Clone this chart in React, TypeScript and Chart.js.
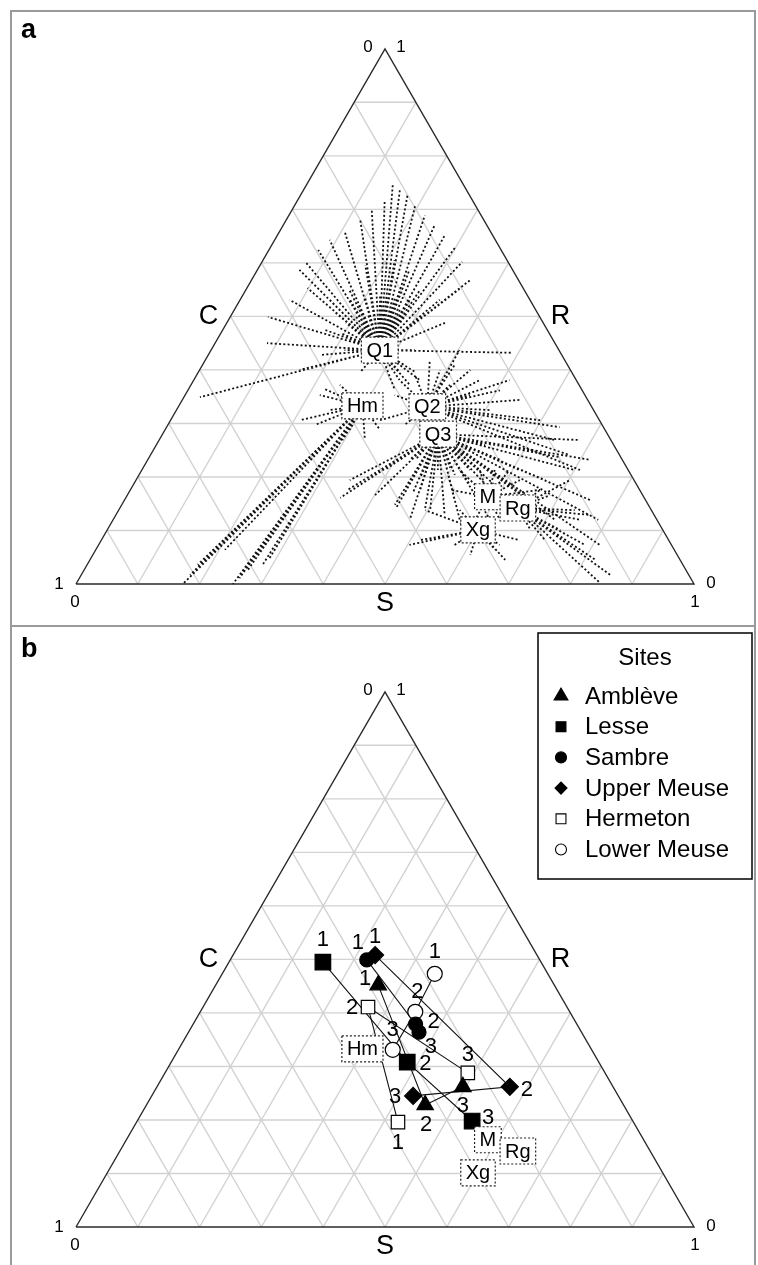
import React, { useEffect, useRef } from 'react';
import { Chart, registerables } from 'chart.js';
import { drawPoint } from 'chart.js/helpers';

Chart.register(...registerables);

type SR = [number, number]; // [S, R]; C = 1 - S - R

// ---------------- data ----------------
const gridTicks = [0.1, 0.2, 0.3, 0.4, 0.5, 0.6, 0.7, 0.8, 0.9];
const vertexTickLabels = ['0', '1'];
const axisNames = ['C', 'R', 'S'];
const panelLetters = ['a', 'b'];

const groupNames = ['Q1', 'Hm', 'Q2', 'Q3', 'M', 'Xg', 'Rg'];
const groupCentroids: SR[] = [
  [0.273, 0.437], [0.297, 0.333], [0.403, 0.331], [0.446, 0.28],
  [0.585, 0.163], [0.6, 0.101], [0.644, 0.142],
];

const membersQ1: SR[] = [
  [0.14, 0.745], [0.156, 0.736], [0.173, 0.727], [0.141, 0.717], [0.195, 0.708], [0.129, 0.699],
  [0.22, 0.689], [0.12, 0.68], [0.245, 0.671], [0.106, 0.658], [0.271, 0.652], [0.089, 0.643],
  [0.299, 0.628], [0.08, 0.624], [0.324, 0.602], [0.07, 0.602], [0.354, 0.568], [0.068, 0.587],
  [0.345, 0.551], [0.098, 0.553], [0.08, 0.531], [0.353, 0.488], [0.49, 0.432], [0.061, 0.499],
  [0.084, 0.45], [0.026, 0.349], [0.145, 0.531], [0.168, 0.549], [0.246, 0.587], [0.282, 0.549],
  [0.213, 0.605], [0.17, 0.596], [0.323, 0.531], [0.165, 0.475], [0.181, 0.428], [0.162, 0.4],
  [0.245, 0.493], [0.271, 0.49], [0.223, 0.49], [0.294, 0.475], [0.213, 0.475], [0.33, 0.437],
  [0.216, 0.437], [0.326, 0.396], [0.262, 0.396], [0.231, 0.521], [0.268, 0.512], [0.204, 0.512],
  [0.238, 0.508], [0.258, 0.506], [0.219, 0.506], [0.282, 0.499], [0.204, 0.499], [0.303, 0.488],
  [0.193, 0.488], [0.323, 0.469], [0.193, 0.469], [0.178, 0.531], [0.275, 0.531], [0.223, 0.538],
  [0.249, 0.534], [0.201, 0.534], [0.311, 0.508], [0.165, 0.508], [0.333, 0.381], [0.354, 0.372],
  [0.335, 0.362], [0.351, 0.396], [0.327, 0.409], [0.366, 0.381],
];
const membersHm: SR[] = [
  [0.173, 0.0], [0.176, 0.017], [0.179, 0.036], [0.187, 0.045], [0.254, 0.0], [0.259, 0.011],
  [0.265, 0.026], [0.284, 0.034], [0.289, 0.045], [0.221, 0.364], [0.248, 0.325], [0.297, 0.269],
  [0.294, 0.25], [0.209, 0.306], [0.218, 0.353], [0.241, 0.372], [0.299, 0.288], [0.238, 0.297],
  [0.333, 0.269], [0.348, 0.288], [0.19, 0.054], [0.209, 0.064], [0.263, 0.054],
];
const membersQ2: SR[] = [
  [0.438, 0.4], [0.463, 0.381], [0.408, 0.409], [0.505, 0.362], [0.636, 0.293], [0.709, 0.213],
  [0.419, 0.372], [0.507, 0.325], [0.333, 0.381], [0.339, 0.353], [0.383, 0.297], [0.389, 0.4],
  [0.353, 0.391], [0.363, 0.419], [0.546, 0.344], [0.339, 0.306], [0.461, 0.353], [0.598, 0.306],
  [0.402, 0.437], [0.511, 0.381], [0.64, 0.269], [0.678, 0.241],
];
const membersQ3: SR[] = [
  [0.753, 0.157], [0.785, 0.12], [0.811, 0.073], [0.7, 0.213], [0.664, 0.237], [0.662, 0.194],
  [0.611, 0.213], [0.57, 0.232], [0.547, 0.213], [0.545, 0.185], [0.534, 0.157], [0.504, 0.138],
  [0.48, 0.12], [0.442, 0.148], [0.401, 0.166], [0.346, 0.194], [0.347, 0.161], [0.352, 0.176],
  [0.469, 0.176], [0.532, 0.129], [0.561, 0.12], [0.61, 0.12], [0.633, 0.138], [0.656, 0.157],
  [0.598, 0.176], [0.508, 0.241], [0.532, 0.26], [0.424, 0.232], [0.393, 0.213], [0.531, 0.213],
  [0.715, 0.12], [0.447, 0.144], [0.46, 0.17], [0.494, 0.142], [0.681, 0.269], [0.716, 0.232],
  [0.479, 0.213], [0.497, 0.217], [0.457, 0.217], [0.505, 0.232], [0.433, 0.232], [0.513, 0.25],
  [0.511, 0.204], [0.458, 0.198],
];
const membersM: SR[] = [
  [0.595, 0.213], [0.621, 0.194], [0.541, 0.194], [0.514, 0.213], [0.626, 0.12], [0.67, 0.129],
  [0.517, 0.176], [0.547, 0.213], [0.663, 0.176], [0.571, 0.213], [0.586, 0.12],
];
const membersXg: SR[] = [
  [0.516, 0.082], [0.503, 0.073], [0.496, 0.138], [0.552, 0.138], [0.649, 0.073],
  [0.672, 0.045], [0.677, 0.082], [0.646, 0.064], [0.611, 0.054], [0.576, 0.073],
];
const membersRg: SR[] = [
  [0.738, 0.138], [0.756, 0.12], [0.767, 0.129], [0.856, 0.017], [0.847, 0.002], [0.818, 0.045],
  [0.733, 0.101], [0.718, 0.082], [0.685, 0.101], [0.684, 0.166], [0.702, 0.194], [0.663, 0.176],
  [0.787, 0.073],
];
const groupMembers: SR[][] = [membersQ1, membersHm, membersQ2, membersQ3, membersM, membersXg, membersRg];
const panelBGroups = ['Hm', 'M', 'Xg', 'Rg'];

const siteNames = ['Amblève', 'Lesse', 'Sambre', 'Upper Meuse', 'Hermeton', 'Lower Meuse'];
const stageLabels = ['1', '2', '3'];
const siteAmbleve: SR[] = [[0.263, 0.452], [0.451, 0.228], [0.495, 0.262]];
const siteLesse: SR[] = [[0.152, 0.495], [0.382, 0.308], [0.542, 0.198]];
const siteSambre: SR[] = [[0.221, 0.499], [0.36, 0.379], [0.373, 0.364]];
const siteUpperMeuse: SR[] = [[0.23, 0.508], [0.571, 0.262], [0.423, 0.245]];
const siteHermeton: SR[] = [[0.423, 0.196], [0.267, 0.411], [0.49, 0.288]];
const siteLowerMeuse: SR[] = [[0.344, 0.473], [0.348, 0.402], [0.347, 0.331]];
const siteValues: SR[][] = [siteAmbleve, siteLesse, siteSambre, siteUpperMeuse, siteHermeton, siteLowerMeuse];

// ---------------- styles / layout ----------------
const FONT = '"Liberation Sans", Arial, Helvetica, sans-serif';
const H3 = Math.sqrt(3) / 2;
const SIDE = 618;
const LEFT = 76;
const PAGE_W = 758;

const siteStyles = [
  { pointStyle: 'triangle', radius: 9.5, fill: '#000', legendRadius: 8 },
  { pointStyle: 'rect', radius: 11, fill: '#000', legendRadius: 7 },
  { pointStyle: 'circle', radius: 7, fill: '#000', legendRadius: 5.5 },
  { pointStyle: 'rectRot', radius: 8.5, fill: '#000', legendRadius: 6 },
  { pointStyle: 'rect', radius: 9.5, fill: '#fff', legendRadius: 7 },
  { pointStyle: 'circle', radius: 7.5, fill: '#fff', legendRadius: 5.5 },
];
const stageLabelOffsets: [number, number][][] = [
  [[-13, -6], [1, 20], [0, 19]],
  [[0, -22], [18, 2], [16, -3]],
  [[-9, -17], [18, -2], [12, 15]],
  [[0, -18], [17, 3], [-18, 1]],
  [[0, 21], [-16, 1], [0, -18]],
  [[0, -22], [2, -20], [0, -20]],
];

const toXY = ([s, r]: SR) => ({ x: s + r / 2, y: r * H3 });
const GAP = { x: NaN, y: NaN };

function gridData() {
  const pts: { x: number; y: number }[] = [];
  for (const t of gridTicks) {
    pts.push(toXY([0, t]), toXY([1 - t, t]), GAP);
    pts.push(toXY([t, 0]), toXY([t, 1 - t]), GAP);
    pts.push(toXY([1 - t, 0]), toXY([0, 1 - t]), GAP);
  }
  return pts;
}

function baseDatasets(): any[] {
  return [
    {
      data: [toXY([0, 0]), toXY([1, 0]), toXY([0, 1]), toXY([0, 0])],
      showLine: true, borderColor: '#2a2a2a', borderWidth: 1.4, pointRadius: 0, order: 40, clip: false,
    },
    {
      data: gridData(), showLine: true, borderColor: '#d2d2d2', borderWidth: 1.4, pointRadius: 0,
      order: 50, clip: false, spanGaps: false,
    },
  ];
}

function spiderDatasets(): any[] {
  return groupNames.map((_, gi) => ({
    data: groupMembers[gi].flatMap((m) => [toXY(groupCentroids[gi]), toXY(m), GAP]),
    showLine: true, borderColor: '#111', borderWidth: 1.8, borderDash: [2, 2.3],
    pointRadius: 0, order: 30, spanGaps: false, clip: false,
  }));
}

function siteDatasets(): any[] {
  const lines = siteValues.map((vals) => ({
    data: vals.map(toXY), showLine: true, borderColor: '#111', borderWidth: 1.1,
    pointRadius: 0, order: 20, clip: false,
  }));
  const pts = siteValues.map((vals, i) => ({
    data: vals.map(toXY), showLine: false, pointStyle: siteStyles[i].pointStyle,
    pointRadius: siteStyles[i].radius, pointBackgroundColor: siteStyles[i].fill,
    pointBorderColor: '#000', pointBorderWidth: 1.2, order: 10, clip: false,
  }));
  return [...pts, ...lines];
}

function text(ctx: CanvasRenderingContext2D, s: string, x: number, y: number, font: string, align: CanvasTextAlign = 'center', baseline: CanvasTextBaseline = 'middle') {
  ctx.font = font;
  ctx.fillStyle = '#000';
  ctx.textAlign = align;
  ctx.textBaseline = baseline;
  ctx.fillText(s, x, y);
}

function px(chart: any, sr: SR) {
  const p = toXY(sr);
  return { x: chart.scales.x.getPixelForValue(p.x), y: chart.scales.y.getPixelForValue(p.y) };
}

function drawGroupBox(ctx: CanvasRenderingContext2D, chart: any, name: string) {
  const gi = groupNames.indexOf(name);
  const p = px(chart, groupCentroids[gi]);
  ctx.font = `20px ${FONT}`;
  const w = ctx.measureText(name).width + 10;
  const h = 26;
  ctx.fillStyle = '#fff';
  ctx.fillRect(p.x - w / 2, p.y - h / 2, w, h);
  ctx.setLineDash([2, 2]);
  ctx.strokeStyle = '#222';
  ctx.lineWidth = 1.2;
  ctx.strokeRect(p.x - w / 2, p.y - h / 2, w, h);
  ctx.setLineDash([]);
  text(ctx, name, p.x, p.y + 1, `20px ${FONT}`);
}

function frameLabels(ctx: CanvasRenderingContext2D, chart: any, letter: string, letterY: number) {
  const bl = px(chart, [0, 0]);
  const br = px(chart, [1, 0]);
  const top = px(chart, [0, 1]);
  const f = `17px ${FONT}`;
  text(ctx, vertexTickLabels[0], top.x - 17, top.y - 1, f);
  text(ctx, vertexTickLabels[1], top.x + 16, top.y - 1, f);
  text(ctx, vertexTickLabels[1], bl.x - 17, bl.y, f);
  text(ctx, vertexTickLabels[0], bl.x - 1, bl.y + 18, f);
  text(ctx, vertexTickLabels[0], br.x + 17, br.y - 1, f);
  text(ctx, vertexTickLabels[1], br.x + 1, br.y + 18, f);
  const big = `27px ${FONT}`;
  const midY = (bl.y + top.y) / 2;
  text(ctx, axisNames[0], (bl.x + top.x) / 2 - 22, midY, big);
  text(ctx, axisNames[1], (br.x + top.x) / 2 + 21, midY, big);
  text(ctx, axisNames[2], (bl.x + br.x) / 2, bl.y + 20, big);
  text(ctx, letter, 21, letterY, `bold 27px ${FONT}`, 'left', 'alphabetic');
}

function drawLegend(ctx: CanvasRenderingContext2D) {
  const lx = 538, ly = 6, lw = 214, lh = 246;
  ctx.save();
  ctx.strokeStyle = '#000';
  ctx.lineWidth = 1.5;
  ctx.strokeRect(lx, ly, lw, lh);
  text(ctx, 'Sites', lx + lw / 2, ly + 25, `24px ${FONT}`);
  siteNames.forEach((name, i) => {
    const y = ly + 63 + i * 30.7;
    const st = siteStyles[i];
    ctx.fillStyle = st.fill;
    ctx.strokeStyle = '#000';
    ctx.lineWidth = 1.1;
    drawPoint(ctx, { pointStyle: st.pointStyle as any, rotation: 0, radius: st.legendRadius, borderWidth: 1.1 }, lx + 23, y);
    text(ctx, name, lx + 47, y + 1, `24px ${FONT}`, 'left');
  });
  ctx.restore();
}

function scalesFor(width: number, height: number, base: number) {
  return {
    x: { type: 'linear', display: false, min: -LEFT / SIDE, max: (width - LEFT) / SIDE },
    y: { type: 'linear', display: false, min: -(height - base) / SIDE, max: base / SIDE },
  };
}

interface PanelProps { top: number; height: number; base: number; which: 'a' | 'b' }

function Panel({ top, height, base, which }: PanelProps) {
  const ref = useRef<HTMLCanvasElement>(null);
  useEffect(() => {
    const isA = which === 'a';
    const datasets = isA
      ? [...spiderDatasets(), ...baseDatasets()]
      : [...siteDatasets(), ...baseDatasets()];
    const plugin = {
      id: 'ternaryDecor' + which,
      afterDatasetsDraw(chart: any) {
        const ctx = chart.ctx as CanvasRenderingContext2D;
        ctx.save();
        if (isA) {
          groupNames.forEach((g) => drawGroupBox(ctx, chart, g));
          frameLabels(ctx, chart, panelLetters[0], 38);
        } else {
          panelBGroups.forEach((g) => drawGroupBox(ctx, chart, g));
          siteValues.forEach((vals, si) => {
            vals.forEach((v, k) => {
              const p = px(chart, v);
              const o = stageLabelOffsets[si][k];
              text(ctx, stageLabels[k], p.x + o[0], p.y + o[1], `22px ${FONT}`);
            });
          });
          frameLabels(ctx, chart, panelLetters[1], 30);
          drawLegend(ctx);
        }
        ctx.restore();
      },
    };
    const chart = new Chart(ref.current as HTMLCanvasElement, {
      type: 'scatter',
      data: { datasets },
      options: {
        responsive: false,
        maintainAspectRatio: false,
        animation: false,
        events: [],
        layout: { padding: 0, autoPadding: false },
        plugins: { legend: { display: false }, tooltip: { enabled: false } },
        scales: scalesFor(PAGE_W, height, base) as any,
      },
      plugins: [plugin],
    } as any);
    return () => chart.destroy();
  }, [top, height, base, which]);
  return (
    <canvas
      ref={ref}
      width={PAGE_W}
      height={height}
      style={{ position: 'absolute', left: 0, top, width: PAGE_W, height, display: 'block' }}
    />
  );
}

export default function App() {
  return (
    <div style={{ position: 'absolute', left: 0, top: 0, width: PAGE_W, height: 1265, overflow: 'hidden', background: '#fff' }}>
      <div style={{ position: 'absolute', left: 10, top: 10, width: 746, height: 617, boxSizing: 'border-box', border: '2px solid #9a9a9a' }} />
      <div style={{ position: 'absolute', left: 10, top: 625, width: 746, height: 700, boxSizing: 'border-box', border: '2px solid #9a9a9a' }} />
      <Panel which="a" top={0} height={626} base={584} />
      <Panel which="b" top={627} height={638} base={600} />
    </div>
  );
}
